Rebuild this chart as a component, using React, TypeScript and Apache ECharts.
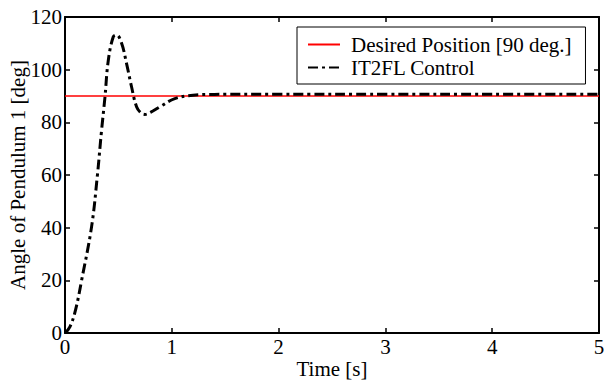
import React, { useEffect, useRef } from "react";
import * as echarts from "echarts";

const xTicks = [0, 1, 2, 3, 4, 5];
const yTicks = [0, 20, 40, 60, 80, 100, 120];
const desiredT = [0, 5];
const desiredY = [90, 90];
const controlT = [0, 0.047, 0.1, 0.156, 0.249, 0.302, 0.342, 0.374, 0.405, 0.452, 0.483, 0.53, 0.576, 0.623, 0.67, 0.71, 0.748, 0.8, 0.888, 1.028, 1.199, 1.4, 2.0, 3.0, 4.0, 5.0];
const controlY = [0, 2.4, 9, 20.1, 40.4, 59.4, 76.8, 89.5, 103.4, 112.5, 113.2, 110, 102.4, 93.5, 85.9, 83.6, 83, 83.8, 85.9, 89, 90.3, 90.6, 90.7, 90.7, 90.7, 90.7];

const FONT = "Liberation Serif";

export default function App() {
  const ref = useRef<HTMLDivElement>(null);
  useEffect(() => {
    if (!ref.current) return;
    const chart = echarts.init(ref.current, null, { renderer: "svg" });
    const axisCommon = {
      type: "value",
      min: 0,
      axisLine: { show: true, onZero: false, lineStyle: { color: "#000", width: 2 } },
      axisTick: { show: true, inside: true, length: 5, lineStyle: { color: "#000", width: 1.5 } },
      splitLine: { show: false },
    };
    chart.setOption({
      animation: false,
      backgroundColor: "#fff",
      textStyle: { fontFamily: FONT },
      grid: { left: 65, right: 5, top: 17, bottom: 47, containLabel: false, outerBoundsMode: "none" },
      legend: {
        orient: "vertical",
        left: 297,
        top: 27,
        padding: [7, 14, 6, 10],
        itemGap: 2,
        itemWidth: 32,
        itemHeight: 14,
        borderColor: "#000",
        borderWidth: 1,
        backgroundColor: "#fff",
        itemStyle: { opacity: 0, borderWidth: 0 },
        textStyle: { fontFamily: FONT, fontSize: 21, color: "#000", padding: [0, 0, 0, 6] },
        data: ["Desired Position [90 deg.]", "IT2FL Control"],
      },
      xAxis: [
        {
          ...axisCommon,
          max: 5,
          interval: 1,
          position: "bottom",
          name: "Time [s]",
          nameLocation: "middle",
          nameGap: 25,
          nameMoveOverlap: false,
          nameTextStyle: { fontFamily: FONT, fontSize: 21, color: "#000" },
          axisLabel: {
            fontFamily: FONT,
            fontSize: 21,
            color: "#000",
            margin: 3,
            formatter: (v: number) => (xTicks.includes(v) ? String(v) : ""),
          },
        },
        {
          ...axisCommon,
          max: 5,
          interval: 1,
          position: "top",
          axisLabel: { show: false },
        },
      ],
      yAxis: [
        {
          ...axisCommon,
          max: 120,
          interval: 20,
          position: "left",
          name: "Angle of Pendulum 1 [deg]",
          nameLocation: "middle",
          nameGap: 37,
          nameMoveOverlap: false,
          nameTextStyle: { fontFamily: FONT, fontSize: 21, color: "#000" },
          axisLabel: {
            fontFamily: FONT,
            fontSize: 21,
            color: "#000",
            margin: 3,
            formatter: (v: number) => (yTicks.includes(v) ? String(v) : ""),
          },
        },
        {
          ...axisCommon,
          max: 120,
          interval: 20,
          position: "right",
          axisLabel: { show: false },
        },
      ],
      series: [
        {
          name: "Desired Position [90 deg.]",
          type: "line",
          symbol: "none",
          data: desiredT.map((t, i) => [t, desiredY[i]]),
          lineStyle: { color: "#ff0000", width: 1.5 },
          itemStyle: { color: "#ff0000" },
          z: 2,
        },
        {
          name: "IT2FL Control",
          type: "line",
          symbol: "none",
          smooth: 0.4,
          data: controlT.map((t, i) => [t, controlY[i]]),
          lineStyle: { color: "#000", width: 3, type: [10, 4, 3, 4] },
          itemStyle: { color: "#000" },
          z: 3,
        },
      ],
    });
    return () => chart.dispose();
  }, []);
  return (
    <div
      ref={ref}
      style={{ position: "fixed", left: 0, top: 0, width: 604, height: 380 }}
    />
  );
}
